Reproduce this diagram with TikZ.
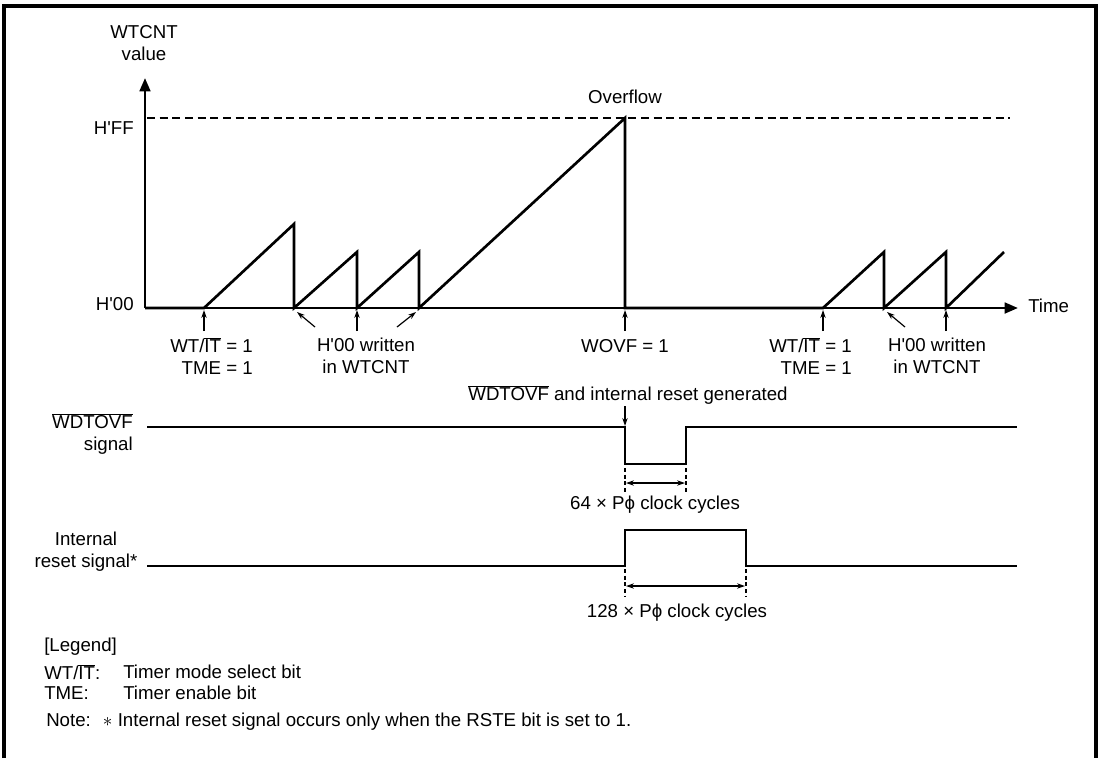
\documentclass[tikz,border=0pt]{standalone}
\usepackage{fontspec}
\setmainfont{Liberation Sans}[Ligatures=TeXOff]
\usetikzlibrary{positioning,arrows.meta,calc}
\newcommand{\ovbar}[1]{$\overline{\mbox{#1}}$}

\begin{document}
\begin{tikzpicture}[x=0.75pt, y=-0.75pt, >={Stealth[length=6pt,width=4pt]},
    font=\fontsize{14}{16.5}\selectfont,
    wave/.style={line width=2pt},
    axisline/.style={line width=2pt, -{Triangle[length=10pt,width=8pt]}},
    pointer/.style={line width=0.9pt, ->},
    limit/.style={line width=0.9pt, dash pattern=on 6pt off 3.5pt},
    marker/.style={line width=0.8pt, dash pattern=on 3pt off 2pt},
    span/.style={line width=0.9pt, <->},
    txt/.style={inner sep=0pt, align=center}]

    \useasboundingbox (0,0) rectangle (1100,758);
    \draw[line width=2.4pt] (4,758) -- (4,6) -- (1096,6) -- (1096,758);

    % WTCNT value against time
    \coordinate (origin) at (145,308);
    \coordinate (ytop) at (145,78);
    \coordinate (xend) at (1018,308);
    \draw[axisline] (origin) -- (ytop);
    \draw[axisline] (origin) -- (xend);
    \node[txt] (cntlbl) at (144,43) {WTCNT\\value};
    \node[txt, anchor=east] (hff) at (134,128) {H'FF};
    \node[txt, anchor=east] (h00) at (134,304) {H'00};
    \node[txt, anchor=west] (timelbl) at (1028,306) {Time};
    \node[txt] (ovf) at (625,97) {Overflow};
    \coordinate (ffleft) at (147,118);
    \coordinate (ffright) at (1010,118);
    \draw[limit] (ffleft) -- (ffright);

    \draw[wave] (origin) -- (204,308) -- (294,224) -- (294,308) -- (357,252) -- (357,308)
        -- (419,252) -- (419,308) -- (625,118) -- (625,308) -- (823,308) -- (884,252)
        -- (884,308) -- (946,252) -- (946,308) -- (1004,252);

    % pointers below the time axis
    \foreach \x/\n in {204/a,357/b,625/c,823/d,946/e} {
        \coordinate (tail\n) at (\x,331);
        \coordinate (tip\n) at (\x,310);
        \draw[pointer] (tail\n) -- (tip\n);
    }
    \coordinate (tailf) at (315,327);
    \coordinate (tipf) at (297,312);
    \coordinate (tailg) at (397,327);
    \coordinate (tipg) at (416,312);
    \coordinate (tailh) at (905,327);
    \coordinate (tiph) at (887,312);
    \draw[pointer] (tailf) -- (tipf);
    \draw[pointer] (tailg) -- (tipg);
    \draw[pointer] (tailh) -- (tiph);

    \node[txt, align=right, anchor=east] (mode1) at (253,356) {WT/\ovbar{IT} = 1\\TME = 1};
    \node[txt] (clear1) at (366,356) {H'00 written\\in WTCNT};
    \node[txt] (wovf) at (625,346) {WOVF = 1};
    \node[txt, align=right, anchor=east] (mode2) at (852,356) {WT/\ovbar{IT} = 1\\TME = 1};
    \node[txt] (clear2) at (937,356) {H'00 written\\in WTCNT};

    % WDTOVF signal
    \node[txt, align=right, anchor=east] (wdtlbl) at (133,434) {\ovbar{WDTOVF}\\signal};
    \node[txt] (gen) at (628,395) {\ovbar{WDTOVF} and internal reset generated};
    \coordinate (gentail) at (625,406);
    \coordinate (fall) at (625,426);
    \draw[pointer] (gentail) -- (fall);
    \draw[wave] (147,427) -- (625,427) -- (625,464) -- (686,464) -- (686,427) -- (1017,427);
    \draw[marker] (625,468) -- (625,493);
    \draw[marker] (686,468) -- (686,493);
    \coordinate (w64a) at (626,483);
    \coordinate (w64b) at (685,483);
    \draw[span] (w64a) -- (w64b);
    \node[txt] (cyc64) at (655,505) {64 × Pϕ clock cycles};

    % internal reset signal
    \node[txt] (rstlbl) at (86,552) {Internal\\reset signal*};
    \draw[wave] (147,566) -- (625,566) -- (625,530) -- (746,530) -- (746,566) -- (1017,566);
    \draw[marker] (625,569) -- (625,596);
    \draw[marker] (746,569) -- (746,596);
    \coordinate (w128a) at (626,586);
    \coordinate (w128b) at (745,586);
    \draw[span] (w128a) -- (w128b);
    \node[txt] (cyc128) at (677,613) {128 × Pϕ clock cycles};

    % legend
    \node[txt, anchor=west] (legend) at (44,647) {[Legend]};
    \node[txt, anchor=west] (wtkey) at (44,672) {WT/\ovbar{IT}:};
    \node[txt, anchor=west] (wtdesc) at (123,672) {Timer mode select bit};
    \node[txt, anchor=west] (tmekey) at (44,693) {TME:};
    \node[txt, anchor=west] (tmedesc) at (123,693) {Timer enable bit};
    \node[txt, anchor=west] (note) at (46,722) {Note: \ $\ast$ Internal reset signal occurs only when the RSTE bit is set to 1.};

\end{tikzpicture}
\end{document}
